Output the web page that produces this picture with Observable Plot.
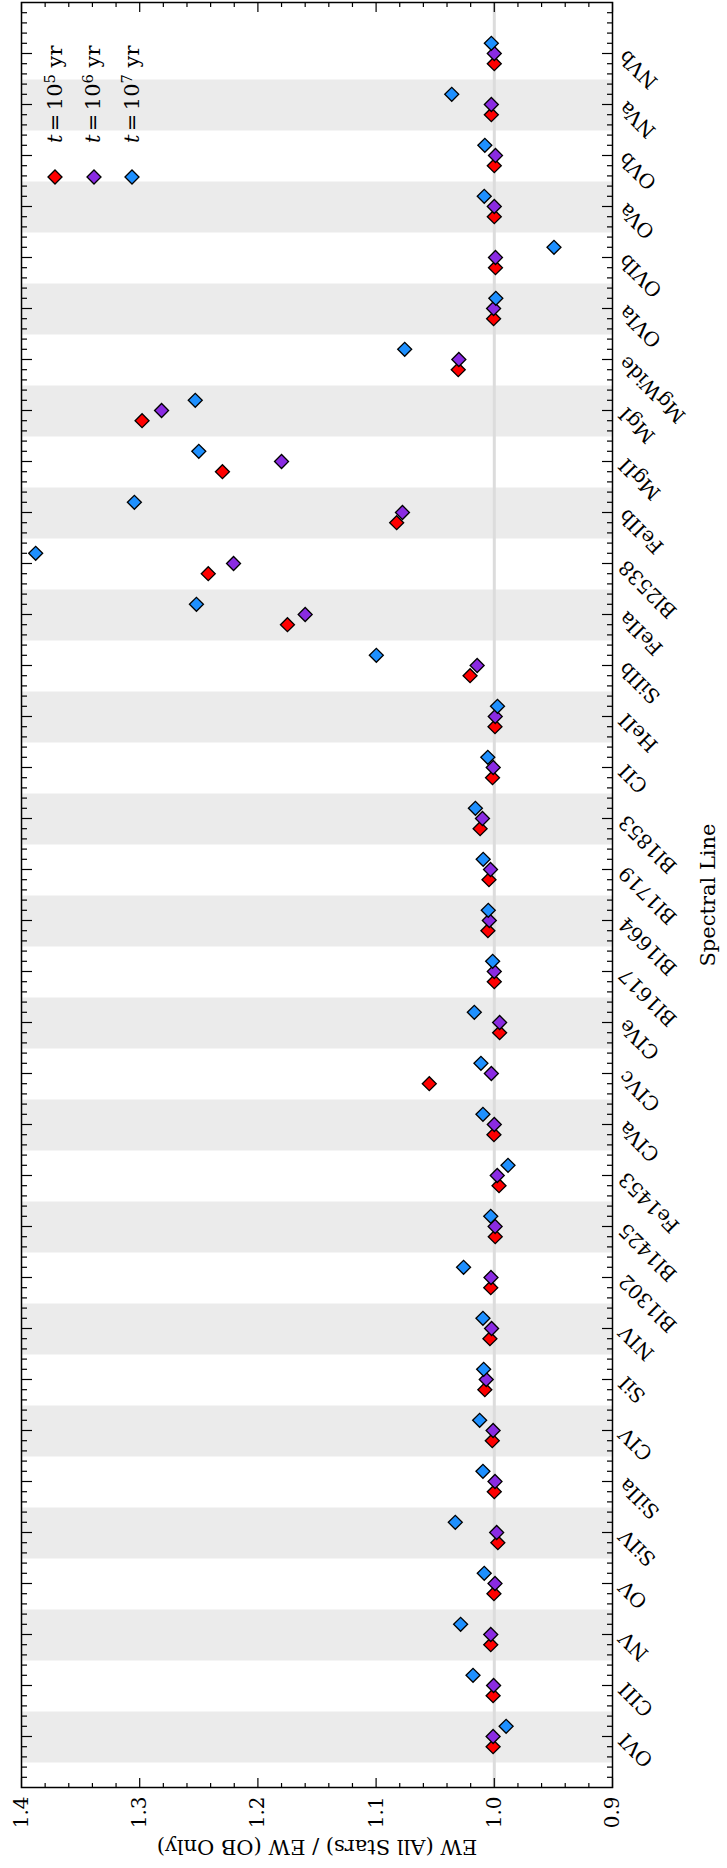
<!DOCTYPE html>
<html><head><meta charset="utf-8">
<script src="https://cdn.jsdelivr.net/npm/d3@7"></script>
<script src="https://cdn.jsdelivr.net/npm/@observablehq/plot@0.6"></script>
<style>
html,body{margin:0;padding:0;background:#fff;overflow:hidden;width:727px;height:1868px;}
#wrap{position:absolute;left:0;top:0;width:1868px;height:727px;transform-origin:0 0;transform:translate(0px,1868px) rotate(-90deg);font-family:"DejaVu Serif",serif;background:#fff;}
.lg{position:absolute;font-size:21px;white-space:nowrap;line-height:21px;height:21px;}
.lg sup{font-size:70%;vertical-align:0.45em;line-height:0;}
.lg .eq{margin:0 0.16em;}
.ylab{position:absolute;font-size:21px;white-space:nowrap;line-height:24px;transform:translate(-50%,-50%) rotate(-90deg);}
</style></head><body><div id="wrap"></div>
<script>
// Spectral lines (left to right in the unrotated chart)
const lines = ["OVI","CIII","NV","OV","SiIV","SiIIa","CIV","SiI","NIV","Bl1302","Bl1425","Fe1453","CIVa","CIVc","CIVe","Bl1617","Bl1664","Bl1719","Bl1853","CII","HeII","SiIIb","FeIIa","Bl2538","FeIIb","MgII","MgI","MgWide","OVIa","OVIb","OVa","OVb","NVa","NVb"];
// EW (All Stars) / EW (OB Only)
const ew1e5 = [1.001,1.001,1.003,1.0003,0.997,1.000,1.0017,1.008,1.0037,1.003,0.9992,0.996,1.0003,1.055,0.9955,1.000,1.0054,1.0045,1.012,1.0015,0.9994,1.0205,1.175,1.242,1.0826,1.230,1.298,1.0305,1.0006,0.999,1.000,1.000,1.0025,1.000];
const ew1e6 = [1.001,1.0006,1.003,0.9994,0.998,0.9994,1.001,1.0068,1.0023,1.0028,0.9993,0.9975,1.000,1.0025,0.9955,1.000,1.0042,1.0032,1.010,1.0009,0.9992,1.0145,1.160,1.2206,1.0777,1.180,1.2815,1.030,1.0006,0.999,1.000,0.999,1.0025,1.000];
const ew1e7 = [0.990,1.018,1.0285,1.0085,1.033,1.0096,1.0124,1.009,1.0096,1.026,1.003,0.9884,1.0096,1.0113,1.0169,1.0014,1.0051,1.0094,1.016,1.0055,0.9973,1.0998,1.252,1.388,1.3045,1.250,1.253,1.0758,0.9987,0.9495,1.0085,1.008,1.036,1.0025];
const ageExponents = ["5","6","7"];
const valueTicks = [0.9,1.0,1.1,1.2,1.3,1.4];
const valueLabel = "EW (All Stars) / EW (OB Only)";
const categoryLabel = "Spectral Line";

const colors = ["#ff0000","#8a2be2","#1e90ff"];
const offsets = [-0.2, 0, 0.2];
const seriesValues = [ew1e5, ew1e6, ew1e7];

const pointSets = seriesValues.map((vals, k) => vals.map((v, i) => ({pos: i + offsets[k], v})));
const bands = lines.map((name, i) => ({i})).filter(d => d.i % 2 === 0);
const majorX = d3.range(lines.length);
const minorX = d3.range(-5, 5 * (lines.length + 1) + 1).map(k => k / 5).filter(v => Math.abs(v - Math.round(v)) > 1e-9);
const minorY = d3.range(45, 71).filter(k => k % 5 !== 0).map(k => k / 50);

const tickStyle = {stroke: "black", strokeWidth: 1.2, fill: "none", label: null};
const W = 1868, H = 727, mL = 80, mR = 3, mT = 21, mB = 115;

const chart = Plot.plot({
  width: W,
  height: H,
  marginLeft: mL,
  marginRight: mR,
  marginTop: mT,
  marginBottom: mB,
  style: {fontFamily: "DejaVu Serif, serif", fontSize: "20px", background: "white", color: "black"},
  x: {type: "linear", domain: [-1, lines.length]},
  y: {type: "linear", domain: [0.9, 1.4]},
  marks: [
    Plot.rect(bands, {x1: d => d.i - 0.5, x2: d => d.i + 0.5, fill: "#ebebeb"}),
    Plot.ruleY([1], {stroke: "#dcdcdc", strokeWidth: 3}),
    ...pointSets.map((pts, k) => Plot.dot(pts, {x: "pos", y: "v", symbol: "diamond2", r: 6.3, fill: colors[k], stroke: "black", strokeWidth: 1.3, fillOpacity: 1})),
    Plot.axisX(majorX, {anchor: "bottom", tickSize: -10, ...tickStyle}),
    Plot.axisX(minorX, {anchor: "bottom", tickSize: -5, ...tickStyle}),
    Plot.axisX(majorX, {anchor: "top", tickSize: -10, ...tickStyle}),
    Plot.axisX(minorX, {anchor: "top", tickSize: -5, ...tickStyle}),
    Plot.axisY(valueTicks, {anchor: "left", tickSize: -10, ...tickStyle}),
    Plot.axisY(minorY, {anchor: "left", tickSize: -5, ...tickStyle}),
    Plot.axisY(valueTicks, {anchor: "right", tickSize: -10, ...tickStyle}),
    Plot.axisY(minorY, {anchor: "right", tickSize: -5, ...tickStyle}),
    Plot.axisX(majorX, {anchor: "bottom", tickSize: 0, tickPadding: 10, tickRotate: -45, tickFormat: i => lines[i], label: null, fontSize: 20}),
    Plot.axisY(valueTicks, {anchor: "left", tickSize: 0, tickPadding: 9, tickFormat: d3.format(".1f"), label: null, fontSize: 20}),
    Plot.frame({stroke: "black", strokeWidth: 1.5}),
    Plot.text([categoryLabel], {frameAnchor: "bottom", text: d => d, dy: 102, fontSize: 21})
  ]
});
const wrap = document.getElementById("wrap");
wrap.appendChild(chart);

// Value-axis title (left of the unrotated frame, centred on it)
const yl = document.createElement("div");
yl.className = "ylab";
yl.textContent = valueLabel;
yl.style.left = "21px";
yl.style.top = ((mT + (H - mB)) / 2) + "px";
wrap.appendChild(yl);

// Legend (upper right of the unrotated chart)
ageExponents.forEach((e, k) => {
  const cy = 55 + k * 38.7;
  const m = document.createElementNS("http://www.w3.org/2000/svg", "svg");
  m.setAttribute("width", 20); m.setAttribute("height", 20);
  m.style.position = "absolute"; m.style.left = (1691 - 10) + "px"; m.style.top = (cy - 10) + "px";
  m.innerHTML = `<path d="M10,3L17,10L10,17L3,10Z" fill="${colors[k]}" stroke="black" stroke-width="1.3"/>`;
  wrap.appendChild(m);
  const t = document.createElement("div");
  t.className = "lg";
  t.innerHTML = `<i>t</i><span class="eq">=</span>10<sup>${e}</sup> yr`;
  t.style.left = "1725px"; t.style.top = (cy - 10.5) + "px";
  wrap.appendChild(t);
});
</script>
</body></html>
